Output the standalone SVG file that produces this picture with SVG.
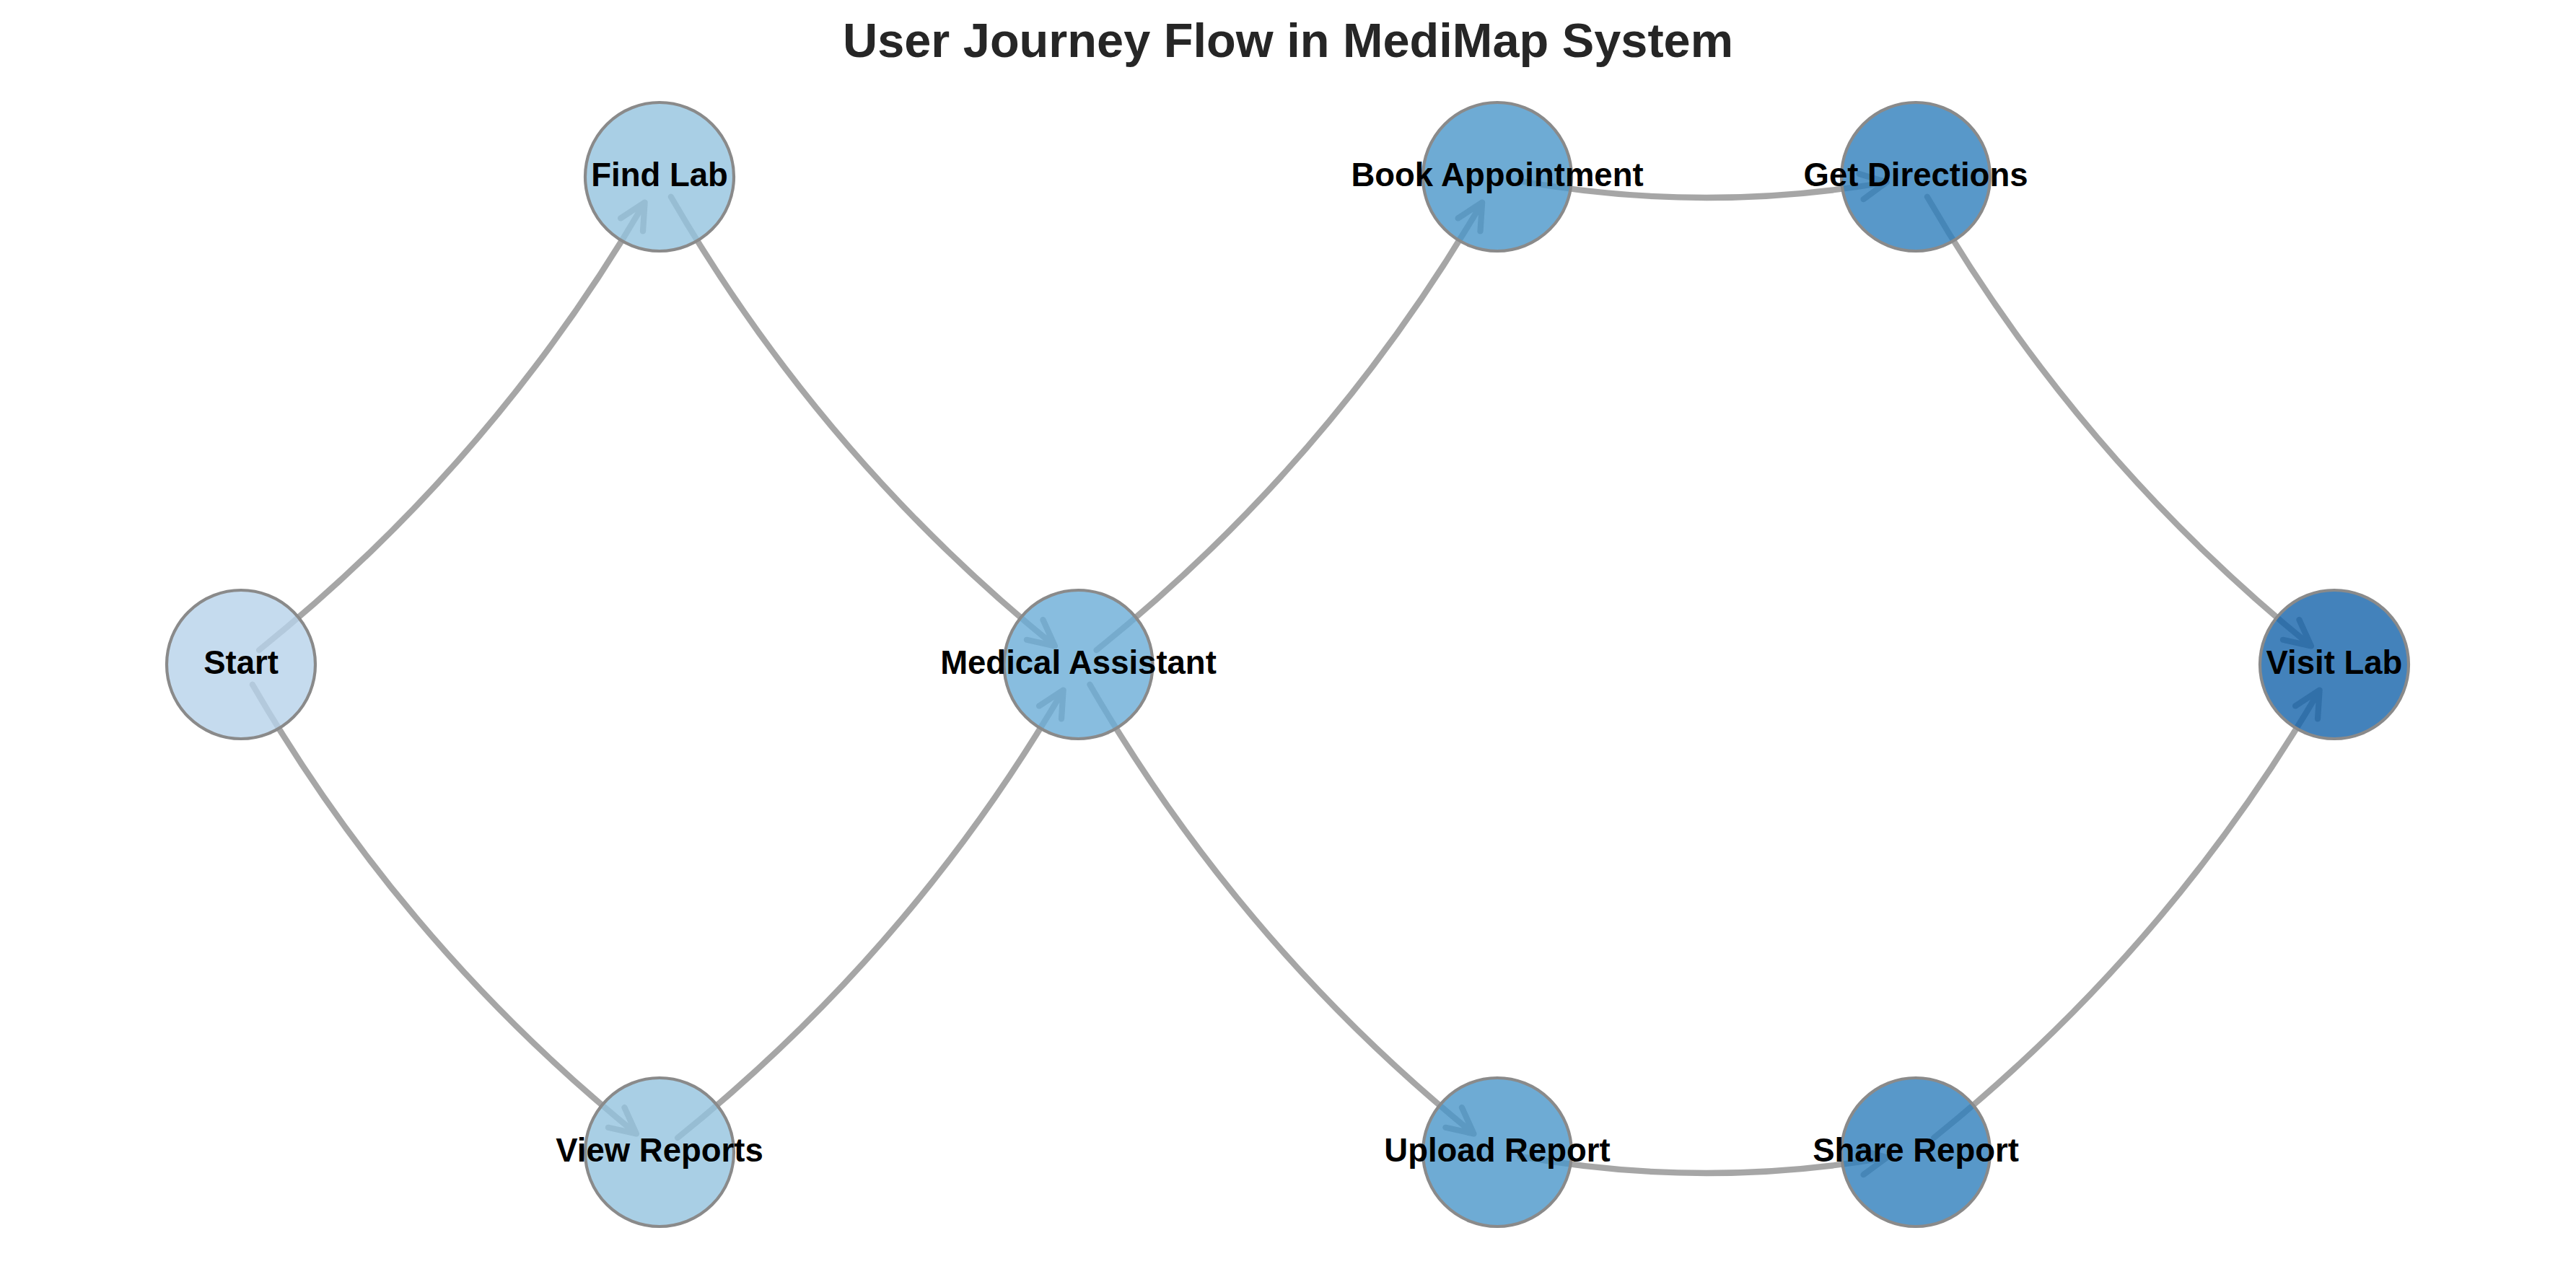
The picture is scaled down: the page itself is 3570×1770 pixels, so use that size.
<svg xmlns="http://www.w3.org/2000/svg" width="3570" height="1770" viewBox="0 0 3570 1770">
<style>
.edge{fill:none;stroke:#808080;stroke-opacity:0.7;stroke-width:8.3;stroke-linecap:round;stroke-linejoin:round}
.node circle{stroke:#8a8a8a;stroke-width:4.2;fill-opacity:0.8}
.node text{font-family:"Liberation Sans",Arial,sans-serif;font-weight:bold;font-size:45.5px;fill:#000;text-anchor:middle}
.title{font-family:"Liberation Sans",Arial,sans-serif;font-weight:bold;font-size:66.7px;fill:#262626;text-anchor:middle}
</style>
<rect width="3570" height="1770" fill="#ffffff"/>
<text class="title" x="1785" y="79">User Journey Flow in MediMap System</text>
<g id="connectors">
<path class="edge" d="M359.01,901.14 Q683.48,639.9 893.62,280.56 M860.12,302.41 L893.62,280.56 L891,320.47"/>
<path class="edge" d="M349.83,948.74 Q558.72,1309.14 881.95,1571.45 M865.44,1535.02 L881.95,1571.45 L842.9,1562.79"/>
<path class="edge" d="M929.83,272.74 Q1138.72,633.14 1461.95,895.45 M1445.44,859.02 L1461.95,895.45 L1422.9,886.79"/>
<path class="edge" d="M939.01,1577.14 Q1263.48,1315.9 1473.62,956.56 M1440.12,978.41 L1473.62,956.56 L1471,996.47"/>
<path class="edge" d="M1519.51,901.14 Q1843.98,639.9 2054.12,280.56 M2020.62,302.41 L2054.12,280.56 L2051.5,320.47"/>
<path class="edge" d="M1510.33,948.74 Q1719.22,1309.14 2042.45,1571.45 M2025.94,1535.02 L2042.45,1571.45 L2003.4,1562.79"/>
<path class="edge" d="M2106.38,250.94 Q2360.59,296.28 2614.8,252.48 M2576.51,240.93 L2614.8,252.48 L2582.58,276.18"/>
<path class="edge" d="M2106.38,1602.94 Q2360.59,1648.28 2614.8,1604.48 M2576.51,1592.93 L2614.8,1604.48 L2582.58,1628.18"/>
<path class="edge" d="M2670.83,272.74 Q2879.72,633.14 3202.95,895.45 M3186.44,859.02 L3202.95,895.45 L3163.9,886.79"/>
<path class="edge" d="M2680.01,1577.14 Q3004.48,1315.9 3214.62,956.56 M3181.12,978.41 L3214.62,956.56 L3212,996.47"/>
</g>
<g id="node-start" class="node"><circle cx="334" cy="921" r="103" fill="#b7d2ea"/><text x="334" y="934">Start</text></g>
<g id="node-findlab" class="node"><circle cx="914" cy="245" r="103" fill="#94c3df"/><text x="914" y="258">Find Lab</text></g>
<g id="node-viewreports" class="node"><circle cx="914" cy="1597" r="103" fill="#94c3df"/><text x="914" y="1610">View Reports</text></g>
<g id="node-medical" class="node"><circle cx="1494.5" cy="921" r="103" fill="#6aadd7"/><text x="1494.5" y="934">Medical Assistant</text></g>
<g id="node-book" class="node"><circle cx="2075" cy="245" r="103" fill="#4a96c9"/><text x="2075" y="258">Book Appointment</text></g>
<g id="node-upload" class="node"><circle cx="2075" cy="1597" r="103" fill="#4a96c9"/><text x="2075" y="1610">Upload Report</text></g>
<g id="node-directions" class="node"><circle cx="2655" cy="245" r="103" fill="#2e7ebc"/><text x="2655" y="258">Get Directions</text></g>
<g id="node-share" class="node"><circle cx="2655" cy="1597" r="103" fill="#2e7ebc"/><text x="2655" y="1610">Share Report</text></g>
<g id="node-visit" class="node"><circle cx="3235" cy="921" r="103" fill="#1463aa"/><text x="3235" y="934">Visit Lab</text></g>
</svg>
